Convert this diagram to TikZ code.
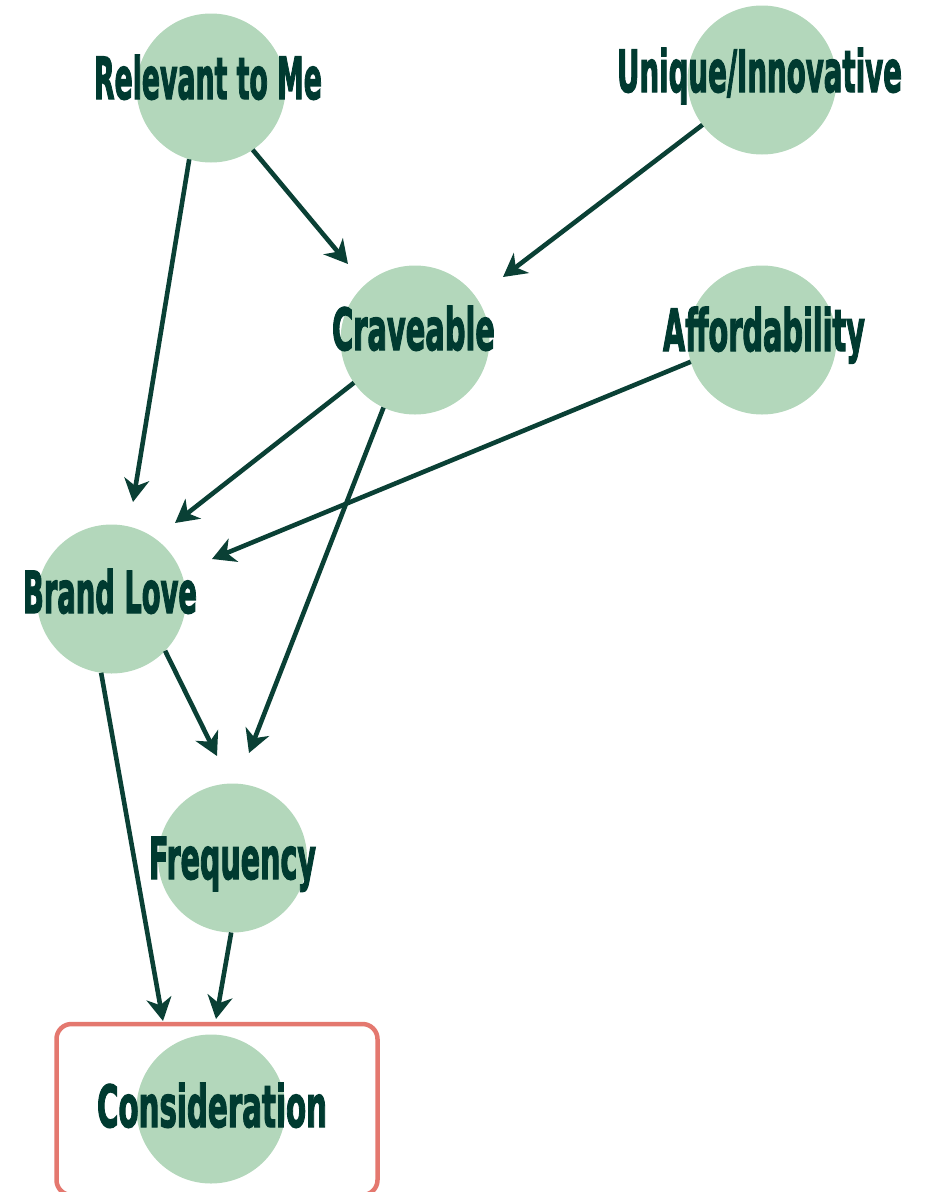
\documentclass[tikz,border=0pt]{standalone}
\usepackage{fontspec}
\usepackage{graphicx}
\usetikzlibrary{arrows.meta}
\newfontfamily\labfontfam{DejaVu Sans Condensed}[FakeBold=2.5]
\definecolor{circfill}{HTML}{B3D7BB}
\definecolor{txtc}{HTML}{003A30}
\definecolor{arrc}{HTML}{0A4035}
\definecolor{boxc}{HTML}{E4786F}
\newlength\labw
\newcommand\labfont{\labfontfam\bfseries\fontsize{58}{58}\selectfont}
\newcommand\lab[2]{\settowidth\labw{\labfont #2}\pgfmathsetmacro\labfac{#1/\labw}\scalebox{\labfac}[1]{\labfont #2}}
\tikzset{
  circ/.style={circle, fill=circfill, minimum size=149pt, inner sep=0pt, outer sep=0pt},
  txt/.style={anchor=base, inner sep=0pt, outer sep=0pt, text=txtc},
  arr/.style={draw=arrc, line width=4.6pt, -{Stealth[length=23pt,width=25pt,inset=7pt]}},
  focusbox/.style={draw=boxc, line width=4.5pt, rounded corners=15pt, minimum width=321pt, minimum height=171pt, inner sep=0pt}
}
\begin{document}
\begin{tikzpicture}[x=1pt,y=-1pt]
\useasboundingbox (0,0) rectangle (925,1192);
% circles
\node[circ] (rel) at (211,88) {};
\node[circ] (uni) at (762,80) {};
\node[circ] (crav) at (415,340) {};
\node[circ] (aff) at (762,340) {};
\node[circ] (bl) at (111.5,599) {};
\node[circ] (freq) at (232.5,858) {};
\node[circ] (cons) at (211,1109) {};
\node[focusbox] (box) at (217,1109.5) {};
% labels
\node[txt] (trel) at (208,99) {\lab{228}{Relevant to Me}};
\node[txt] (tuni) at (759.5,92) {\lab{285}{Unique/Innovative}};
\node[txt] (tcrav) at (413.5,350) {\lab{163}{Craveable}};
\node[txt] (taff) at (764,351) {\lab{202}{Affordability}};
\node[txt] (tbl) at (110,613) {\lab{174}{Brand Love}};
\node[txt] (tfreq) at (232.5,879) {\lab{167}{Frequency}};
\node[txt] (tcons) at (212,1127) {\lab{230}{Consideration}};
% arrow tips
\coordinate (t1) at (348,264);
\coordinate (t2) at (133,502);
\coordinate (t3) at (503,277);
\coordinate (t4) at (175,523);
\coordinate (t5) at (249,753);
\coordinate (t6) at (212,559);
\coordinate (t7) at (217,756);
\coordinate (t8) at (163,1021);
\coordinate (t9) at (216,1019);
% connectors
\draw[arr] (rel.-56.7) -- (t1);
\draw[arr] (rel.-107.7) -- (t2);
\draw[arr] (uni.-143.1) -- (t3);
\draw[arr] (crav.-145.3) -- (t4);
\draw[arr] (crav.-115.2) -- (t5);
\draw[arr] (aff.-163) -- (t6);
\draw[arr] (bl.-44.2) -- (t7);
\draw[arr] (bl.-98.8) -- (t8);
\draw[arr] (freq.-91.9) -- (t9);
\end{tikzpicture}
\end{document}
